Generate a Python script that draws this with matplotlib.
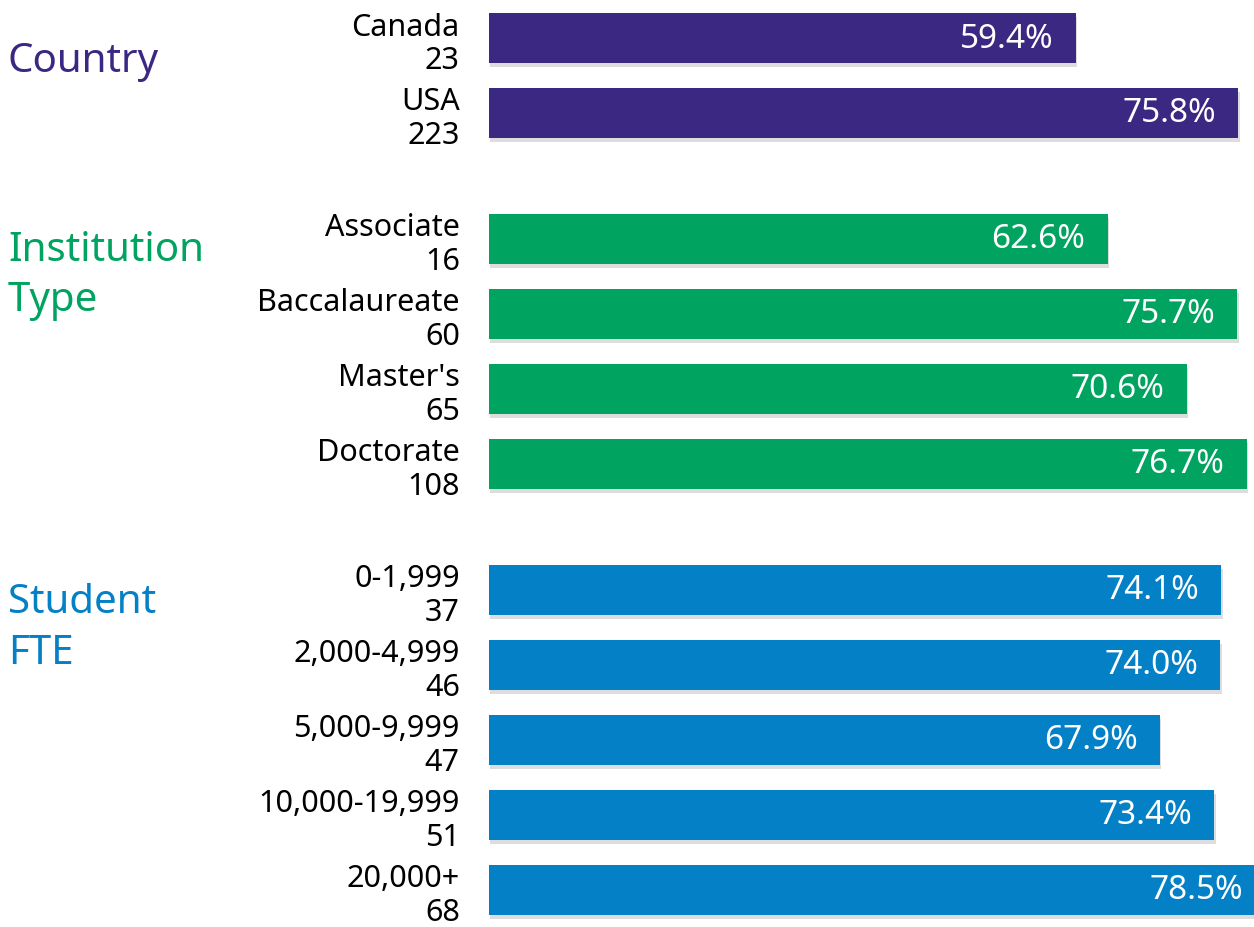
import matplotlib.pyplot as plt
import matplotlib.patheffects as pe
import matplotlib.transforms as mtransforms

plt.rcParams['font.family'] = ['Noto Sans', 'DejaVu Sans']

groups = ['Country', 'Institution\nType', 'Student\nFTE']
group_colors = ['#3b2882', '#00a35f', '#0380c6']

country_labels = ['Canada', 'USA']
country_n = [23, 223]
country_pct = [59.4, 75.8]

inst_labels = ['Associate', 'Baccalaureate', "Master's", 'Doctorate']
inst_n = [16, 60, 65, 108]
inst_pct = [62.6, 75.7, 70.6, 76.7]

fte_labels = ['0-1,999', '2,000-4,999', '5,000-9,999', '10,000-19,999', '20,000+']
fte_n = [37, 46, 47, 51, 68]
fte_pct = [74.1, 74.0, 67.9, 73.4, 78.5]

data = [(country_labels, country_n, country_pct),
        (inst_labels, inst_n, inst_pct),
        (fte_labels, fte_n, fte_pct)]

fig = plt.figure(figsize=(12.54, 9.28), dpi=100)
ax = fig.add_axes([489 / 1254, 0, 1 - 489 / 1254, 1])
trans = mtransforms.blended_transform_factory(fig.transFigure, ax.transData)

gap = 0.68
pos = 0.0
ticks, ticklabels = [], []
title_offsets = [0.3, 0.48, 0.5]
for gi, (labels, ns, pcts) in enumerate(data):
    ys = [pos + i for i in range(len(labels))]
    bars = ax.barh(ys, pcts, height=0.667, color=group_colors[gi])
    for b in bars:
        b.set_path_effects([pe.SimplePatchShadow(offset=(1, -3), alpha=0.2, shadow_rgbFace='#555555'),
                            pe.Normal()])
    for y, v in zip(ys, pcts):
        ax.annotate(f'{v:.1f}%', xy=(v, y), xytext=(-16, 0), textcoords='offset points',
                    ha='right', va='center', color='white', fontsize=24, annotation_clip=False)
    for y, l, n in zip(ys, labels, ns):
        ticks.append(y)
        ticklabels.append(f'{l}\n{n}')
    fig.text(8 / 1254, ys[0] + title_offsets[gi], groups[gi], transform=trans,
             color=group_colors[gi], fontsize=29, ha='left', va='center', linespacing=1.35)
    pos = ys[-1] + 1 + gap

ax.set_yticks(ticks)
ax.set_yticklabels(ticklabels, fontsize=22, linespacing=1.15)
ax.tick_params(axis='y', length=0, pad=21)
ax.set_xticks([])
ax.set_xlim(0, 77.4)
ax.set_ylim((928 - 39) / 75, -39 / 75)
for s in ax.spines.values():
    s.set_visible(False)

fig.savefig('out.png', dpi=100)
